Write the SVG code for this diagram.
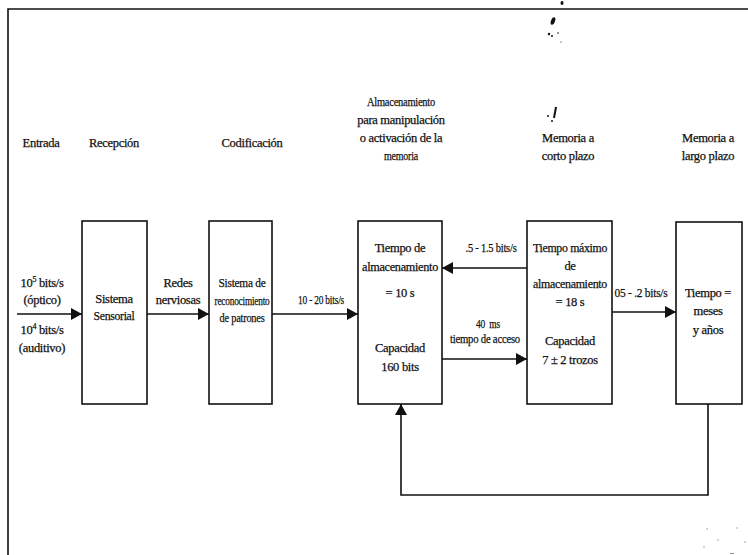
<svg xmlns="http://www.w3.org/2000/svg" width="748" height="555" viewBox="0 0 748 555">
<style>
text{font-family:"Liberation Serif","Times New Roman",serif;font-size:12.5px;fill:#111;stroke:#111;stroke-width:0.25;text-anchor:middle;letter-spacing:-0.3px}
text.c{font-size:13.5px}
.box{fill:#fff;stroke:#111;stroke-width:1.6}
.ln{fill:none;stroke:#111;stroke-width:1.6}
.sup{font-size:8px}
</style>
<defs>
<marker id="ah" markerUnits="userSpaceOnUse" markerWidth="11" markerHeight="12" refX="11" refY="6" orient="auto">
<path d="M0,0 L11,6 L0,12 z" fill="#111"/>
</marker>
</defs>
<rect width="748" height="555" fill="#fff"/>
<g id="frame">
<path class="ln" d="M8,555 V9 H748"/>
</g>
<g id="headers">
<text x="41" y="147">Entrada</text>
<text x="114" y="147">Recepción</text>
<text x="252" y="147">Codificación</text>
<text class="c" x="401" y="106" textLength="68" lengthAdjust="spacingAndGlyphs">Almacenamiento</text>
<text x="401" y="124">para manipulación</text>
<text x="401" y="142">o activación de la</text>
<text class="c" x="401" y="160" textLength="34" lengthAdjust="spacingAndGlyphs">memoria</text>
<text x="568" y="142">Memoria a</text>
<text x="568" y="160">corto plazo</text>
<text x="708" y="142">Memoria a</text>
<text x="708" y="160">largo plazo</text>
</g>
<g id="sensorial">
<rect class="box" x="82" y="221" width="65" height="183"/>
<text x="114" y="303">Sistema</text>
<text x="114" y="320" textLength="41" lengthAdjust="spacingAndGlyphs">Sensorial</text>
</g>
<g id="reconocimiento">
<rect class="box" x="209" y="221" width="63" height="183"/>
<text class="c" x="242" y="287" textLength="47" lengthAdjust="spacingAndGlyphs">Sistema de</text>
<text class="c" x="242" y="305" textLength="55" lengthAdjust="spacingAndGlyphs">reconocimiento</text>
<text class="c" x="242" y="322" textLength="45" lengthAdjust="spacingAndGlyphs">de patrones</text>
</g>
<g id="almacenamiento">
<rect class="box" x="358" y="221" width="84" height="183"/>
<text x="400" y="252">Tiempo de</text>
<text x="400" y="271" textLength="76" lengthAdjust="spacingAndGlyphs">almacenamiento</text>
<text x="400" y="297">= 10 s</text>
<text x="400" y="352">Capacidad</text>
<text x="400" y="371">160 bits</text>
</g>
<g id="corto-plazo">
<rect class="box" x="527" y="221" width="85" height="183"/>
<text x="570" y="252" textLength="74" lengthAdjust="spacingAndGlyphs">Tiempo máximo</text>
<text x="570" y="270">de</text>
<text x="570" y="288" textLength="74" lengthAdjust="spacingAndGlyphs">almacenamiento</text>
<text x="570" y="306">= 18 s</text>
<text x="570" y="345">Capacidad</text>
<text x="570" y="364">7 ± 2 trozos</text>
</g>
<g id="largo-plazo">
<rect class="box" x="676" y="222" width="66" height="182"/>
<text x="708" y="297">Tiempo =</text>
<text x="708" y="315">meses</text>
<text x="708" y="334">y años</text>
</g>
<g id="connectors">
<path class="ln" d="M17,314 H82" marker-end="url(#ah)"/>
<path class="ln" d="M147,314 H209" marker-end="url(#ah)"/>
<path class="ln" d="M272,314 H358" marker-end="url(#ah)"/>
<path class="ln" d="M527,268 H442" marker-end="url(#ah)"/>
<path class="ln" d="M442,359 H527" marker-end="url(#ah)"/>
<path class="ln" d="M612,312 H676" marker-end="url(#ah)"/>
<path class="ln" d="M708,404 V495 H401 V404" marker-end="url(#ah)"/>
</g>
<g id="connector-labels">
<text x="42" y="287">10<tspan class="sup" dy="-5">5</tspan><tspan dy="5"> bits/s</tspan></text>
<text x="42" y="304">(óptico)</text>
<text x="42" y="334">10<tspan class="sup" dy="-5">4</tspan><tspan dy="5"> bits/s</tspan></text>
<text x="42" y="352">(auditivo)</text>
<text x="178" y="287">Redes</text>
<text x="178" y="304">nerviosas</text>
<text class="c" x="321" y="304" textLength="46" lengthAdjust="spacingAndGlyphs">10 - 20 bits/s</text>
<text class="c" x="491" y="252" textLength="51" lengthAdjust="spacingAndGlyphs">.5 - 1.5 bits/s</text>
<text class="c" x="488" y="328" xml:space="preserve" textLength="24" lengthAdjust="spacingAndGlyphs">40  ms</text>
<text class="c" x="485" y="343" textLength="70" lengthAdjust="spacingAndGlyphs">tiempo de acceso</text>
<text class="c" x="641" y="297" textLength="53" lengthAdjust="spacingAndGlyphs">05 - .2 bits/s</text>
</g>
<g id="specks" fill="#111">
<ellipse cx="562" cy="3" rx="1.5" ry="2"/>
<ellipse cx="553" cy="21" rx="2" ry="4" transform="rotate(20 553 21)"/>
<circle cx="549" cy="34" r="1.2"/>
<circle cx="552" cy="36" r="1"/>
<circle cx="558" cy="33" r="0.8"/>
<circle cx="561" cy="42" r="0.6"/>
<path d="M556,107 L554,118" stroke="#111" stroke-width="2"/>
<circle cx="548" cy="116" r="1"/>
<circle cx="552" cy="121" r="1"/>
<g fill="#999">
<circle cx="707" cy="529" r="0.8"/>
<circle cx="718" cy="540" r="0.8"/>
<circle cx="737" cy="528" r="0.8"/>
<circle cx="745" cy="542" r="0.8"/>
<circle cx="704" cy="547" r="0.8"/>
<rect x="730" y="553" width="4" height="1"/>
</g>
</g>
</svg>
